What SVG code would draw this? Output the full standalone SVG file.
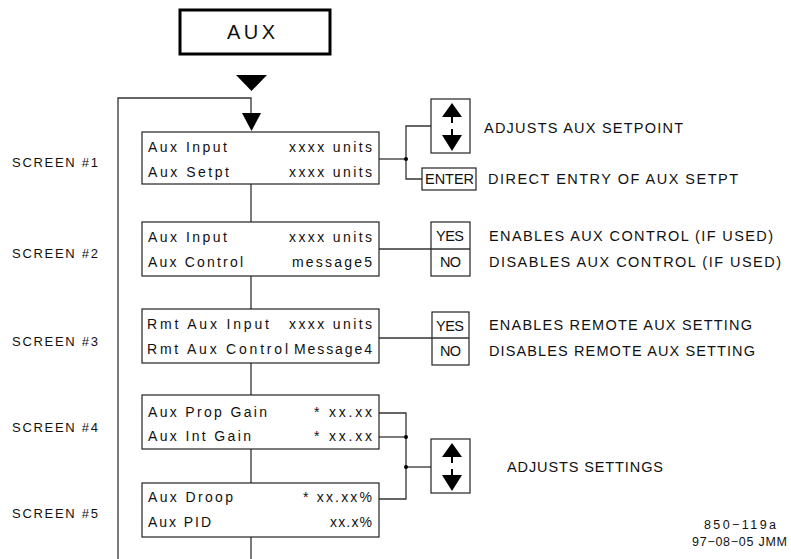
<svg xmlns="http://www.w3.org/2000/svg" width="791" height="559" viewBox="0 0 791 559">
<defs>
<style>
text{font-family:"Liberation Sans",Arial,sans-serif;fill:#111;}
.bt{font-size:14px;}
.lb{font-size:14.5px;}
.sc{font-size:13px;}
.ft{font-size:12.5px;}
.box{fill:#fff;stroke:#222;stroke-width:1.2;}
.ln{fill:none;stroke:#333;stroke-width:1.3;}
.tri{fill:#000;stroke:none;}
.stem{stroke:#000;stroke-width:2;stroke-dasharray:6 6;}
</style>
<g id="updown">
<rect class="box" x="0" y="0" width="39" height="54"/>
<polygon class="tri" points="21,4 11,18 31,18"/>
<line class="stem" x1="21" y1="18" x2="21" y2="36"/>
<polygon class="tri" points="11,36 31,36 21,52"/>
</g>
</defs>
<rect width="791" height="559" fill="#fff"/>

<g id="aux-title">
<rect x="180" y="10" width="150" height="44" fill="#fff" stroke="#000" stroke-width="3"/>
<text x="227" y="39" style="font-size:20px" textLength="48" lengthAdjust="spacing">AUX</text>
<polygon class="tri" points="236,75 267,75 251.5,91"/>
</g>

<g id="connectors">
<polyline class="ln" points="118,559 118,98 251,98 251,114"/>
<polygon class="tri" points="242,113 261,113 251.5,131"/>
<line class="ln" x1="251" y1="184" x2="251" y2="222"/>
<line class="ln" x1="251" y1="276" x2="251" y2="309"/>
<line class="ln" x1="251" y1="363" x2="251" y2="395"/>
<line class="ln" x1="251" y1="449" x2="251" y2="483"/>
<line class="ln" x1="251" y1="537" x2="251" y2="559"/>
<line class="ln" x1="379" y1="159" x2="406" y2="159"/>
<polyline class="ln" points="431,126 406,126 406,179 422,179"/>
<circle cx="406" cy="159" r="2" fill="#000"/>
<line class="ln" x1="379" y1="249" x2="431" y2="249"/>
<line class="ln" x1="379" y1="338" x2="432" y2="338"/>
<polyline class="ln" points="379,413 406,413 406,499 379,499"/>
<line class="ln" x1="379" y1="437" x2="406" y2="437"/>
<line class="ln" x1="406" y1="467" x2="431" y2="467"/>
<circle cx="406" cy="437" r="2" fill="#000"/>
<circle cx="406" cy="467" r="2" fill="#000"/>
</g>

<g id="screen-labels">
<text class="sc" x="12" y="167" textLength="86" lengthAdjust="spacing">SCREEN  #1</text>
<text class="sc" x="12" y="258" textLength="86" lengthAdjust="spacing">SCREEN  #2</text>
<text class="sc" x="12" y="346" textLength="86" lengthAdjust="spacing">SCREEN  #3</text>
<text class="sc" x="12" y="432" textLength="86" lengthAdjust="spacing">SCREEN  #4</text>
<text class="sc" x="12" y="518" textLength="86" lengthAdjust="spacing">SCREEN  #5</text>
</g>

<g id="screen1">
<rect class="box" x="142" y="132" width="237" height="52"/>
<text class="bt" x="148" y="152" textLength="79" lengthAdjust="spacing">Aux Input</text>
<text class="bt" x="148" y="177" textLength="81" lengthAdjust="spacing">Aux Setpt</text>
<text class="bt" x="289" y="152" textLength="83" lengthAdjust="spacing">xxxx units</text>
<text class="bt" x="289" y="177" textLength="83" lengthAdjust="spacing">xxxx units</text>
</g>

<g id="screen2">
<rect class="box" x="142" y="222" width="237" height="54"/>
<text class="bt" x="148" y="242" textLength="79" lengthAdjust="spacing">Aux Input</text>
<text class="bt" x="148" y="267" textLength="95" lengthAdjust="spacing">Aux Control</text>
<text class="bt" x="289" y="242" textLength="83" lengthAdjust="spacing">xxxx units</text>
<text class="bt" x="292" y="267" textLength="80" lengthAdjust="spacing">message5</text>
</g>

<g id="screen3">
<rect class="box" x="142" y="309" width="237" height="54"/>
<text class="bt" x="147" y="329" textLength="122" lengthAdjust="spacing">Rmt Aux Input</text>
<text class="bt" x="147" y="354" textLength="141" lengthAdjust="spacing">Rmt Aux Control</text>
<text class="bt" x="289" y="329" textLength="83" lengthAdjust="spacing">xxxx units</text>
<text class="bt" x="294" y="354" textLength="78" lengthAdjust="spacing">Message4</text>
</g>

<g id="screen4">
<rect class="box" x="142" y="395" width="237" height="54"/>
<text class="bt" x="148" y="417" textLength="119" lengthAdjust="spacing">Aux Prop Gain</text>
<text class="bt" x="148" y="441" textLength="103" lengthAdjust="spacing">Aux Int Gain</text>
<text class="bt" x="314" y="417" textLength="58" lengthAdjust="spacing">*  xx.xx</text>
<text class="bt" x="314" y="441" textLength="58" lengthAdjust="spacing">*  xx.xx</text>
</g>

<g id="screen5">
<rect class="box" x="142" y="483" width="237" height="54"/>
<text class="bt" x="148" y="502" textLength="85" lengthAdjust="spacing">Aux Droop</text>
<text class="bt" x="148" y="527" textLength="63" lengthAdjust="spacing">Aux PID</text>
<text class="bt" x="303" y="502" textLength="69" lengthAdjust="spacing">*  xx.xx%</text>
<text class="bt" x="330" y="527" textLength="42" lengthAdjust="spacing">xx.x%</text>
</g>

<g id="setpoint-keys">
<use href="#updown" x="431" y="99"/>
<text class="lb" x="484" y="133" textLength="199" lengthAdjust="spacing">ADJUSTS AUX SETPOINT</text>
<rect class="box" x="422" y="168" width="54" height="22"/>
<text class="lb" x="425" y="184" textLength="49" lengthAdjust="spacingAndGlyphs">ENTER</text>
<text class="lb" x="488" y="184" textLength="250" lengthAdjust="spacing">DIRECT ENTRY OF AUX SETPT</text>
</g>

<g id="control-keys">
<rect class="box" x="431" y="222" width="39" height="54"/>
<line class="ln" x1="431" y1="249" x2="470" y2="249"/>
<text class="lb" x="436" y="241" textLength="28" lengthAdjust="spacing">YES</text>
<text class="lb" x="440" y="267" textLength="21" lengthAdjust="spacing">NO</text>
<text class="lb" x="489" y="241" textLength="284" lengthAdjust="spacing">ENABLES AUX CONTROL (IF USED)</text>
<text class="lb" x="489" y="267" textLength="292" lengthAdjust="spacing">DISABLES AUX CONTROL (IF USED)</text>
</g>

<g id="remote-keys">
<rect class="box" x="432" y="312" width="37" height="53"/>
<line class="ln" x1="432" y1="338" x2="469" y2="338"/>
<text class="lb" x="436" y="331" textLength="28" lengthAdjust="spacing">YES</text>
<text class="lb" x="440" y="356" textLength="21" lengthAdjust="spacing">NO</text>
<text class="lb" x="489" y="330" textLength="263" lengthAdjust="spacing">ENABLES REMOTE AUX SETTING</text>
<text class="lb" x="489" y="356" textLength="266" lengthAdjust="spacing">DISABLES REMOTE AUX SETTING</text>
</g>

<g id="settings-keys">
<use href="#updown" x="431" y="439"/>
<text class="lb" x="507" y="472" textLength="156" lengthAdjust="spacing">ADJUSTS SETTINGS</text>
</g>

<g id="footer">
<text class="ft" x="704" y="529" textLength="72" lengthAdjust="spacing">850−119a</text>
<text class="ft" x="692" y="546" textLength="95" lengthAdjust="spacing">97−08−05 JMM</text>
</g>
</svg>
